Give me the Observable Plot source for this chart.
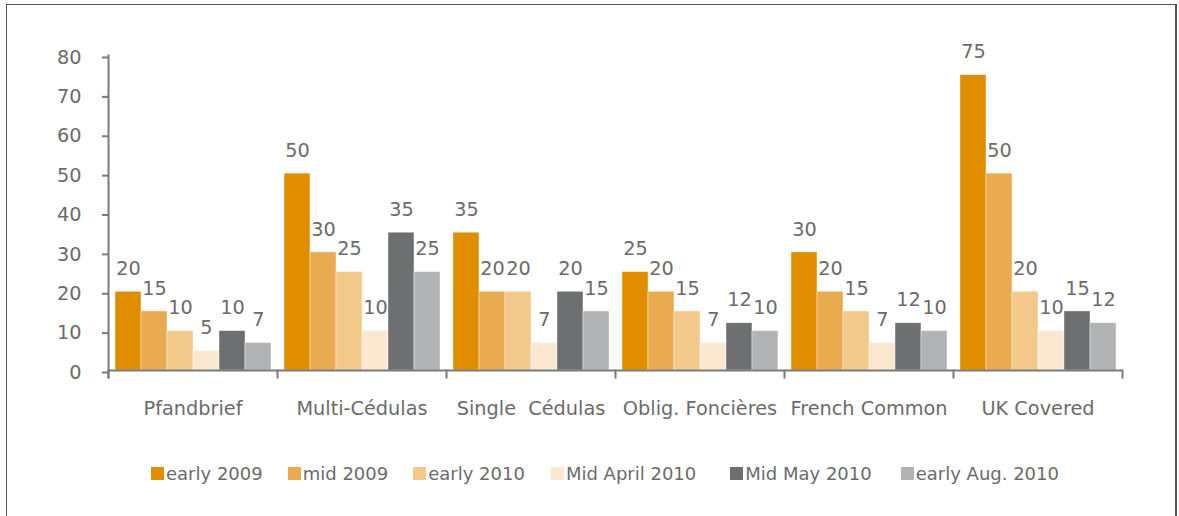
<!DOCTYPE html>
<html>
<head>
<meta charset="utf-8">
<script src="https://cdn.jsdelivr.net/npm/d3@7"></script>
<script src="https://cdn.jsdelivr.net/npm/@observablehq/plot@0.6"></script>
<style>
  html, body { margin: 0; padding: 0; background: #fff; overflow: hidden; }
  body { width: 1179px; height: 516px; position: relative; font-family: "DejaVu Sans", Verdana, sans-serif; }
  #frame { position: absolute; left: 6px; top: 4px; width: 1171px; height: 600px; border: 1.5px solid #555; border-right-width: 2px; box-sizing: border-box; }
  #chart { position: absolute; left: 0; top: 0; }
  #chart svg text { white-space: pre; }
  #legend { position: absolute; left: 151px; top: 463px; display: flex; align-items: center; font-size: 18px; color: #6b6b6b; white-space: nowrap; }
  #legend .item { display: flex; align-items: center; }
  #legend .sw { width: 13px; height: 13px; margin-right: 2px; }
</style>
</head>
<body>
<div id="frame"></div>
<div id="chart"></div>
<div id="legend"></div>
<script>
const groups = ["Pfandbrief", "Multi-Cédulas", "Single  Cédulas", "Oblig. Foncières", "French Common", "UK Covered"];
const series = ["early 2009", "mid 2009", "early 2010", "Mid April 2010", "Mid May 2010", "early Aug. 2010"];
const colors = ["#E08E00", "#EAAA50", "#F2C88B", "#FAE9D0", "#6E6F71", "#B2B3B5"];
const early2009 = [20, 50, 35, 25, 30, 75];
const mid2009 = [15, 30, 20, 20, 20, 50];
const early2010 = [10, 25, 20, 15, 15, 20];
const midApril2010 = [5, 10, 7, 7, 7, 10];
const midMay2010 = [10, 35, 20, 12, 12, 15];
const earlyAug2010 = [7, 25, 15, 10, 10, 12];
const yTicks = [0, 10, 20, 30, 40, 50, 60, 70, 80];

const seriesValues = [early2009, mid2009, early2010, midApril2010, midMay2010, earlyAug2010];
const data = [];
groups.forEach((g, gi) => {
  series.forEach((s, si) => {
    data.push({group: g, series: s, value: seriesValues[si][gi]});
  });
});

const W = 1179, H = 440, mt = 55, mb = 70, ml = 107, mr = 57;
const plotH = H - mt - mb;
const textColor = "#6b6b6b";
const axisColor = "#7a7a7a";
const fs = 19.3;

const chart = Plot.plot({
  width: W,
  height: H,
  marginTop: mt,
  marginBottom: mb,
  marginLeft: ml,
  marginRight: mr,
  style: {fontFamily: "DejaVu Sans, Verdana, sans-serif", fontSize: fs + "px", color: textColor, background: "transparent", overflow: "visible"},
  fx: {domain: groups, padding: 0, axis: null},
  x: {domain: series, paddingInner: 0, paddingOuter: 0.25, axis: null},
  y: {domain: [0, 80], axis: null},
  color: {domain: series, range: colors},
  marks: [
    Plot.barY(data, {fx: "group", x: "series", y: "value", fill: "series", stroke: "#fff", strokeWidth: 0.6, strokeOpacity: 0.7}),
    Plot.text(data, {fx: "group", x: "series", y: "value", text: d => String(d.value), dy: -23, fill: textColor, fontSize: fs}),
    Plot.ruleY([0], {stroke: axisColor, strokeWidth: 2}),
    Plot.frame({anchor: "left", facetAnchor: "left", stroke: axisColor, strokeWidth: 2, insetBottom: -7}),
    Plot.frame({anchor: "left", stroke: axisColor, strokeWidth: 2, insetTop: plotH, insetBottom: -7}),
    Plot.frame({anchor: "right", facetAnchor: "right", stroke: axisColor, strokeWidth: 2, insetTop: plotH, insetBottom: -7}),
    Plot.axisY({ticks: yTicks, tickSize: 6, tickPadding: 21, tickFormat: d => String(d), stroke: axisColor, strokeWidth: 2, fill: textColor, fontSize: fs, dy: 2, label: null}),
    Plot.axisFx({anchor: "bottom", tickSize: 0, tickPadding: 31, fill: textColor, fontSize: fs, label: null})
  ]
});
document.getElementById("chart").appendChild(chart);

const legend = document.getElementById("legend");
const legendGaps = [25, 25, 26, 34, 29, 0];
series.forEach((s, i) => {
  const item = document.createElement("div");
  item.className = "item";
  item.style.marginRight = legendGaps[i] + "px";
  const sw = document.createElement("span");
  sw.className = "sw";
  sw.style.background = colors[i];
  const t = document.createElement("span");
  t.textContent = s;
  item.appendChild(sw);
  item.appendChild(t);
  legend.appendChild(item);
});
</script>
</body>
</html>
